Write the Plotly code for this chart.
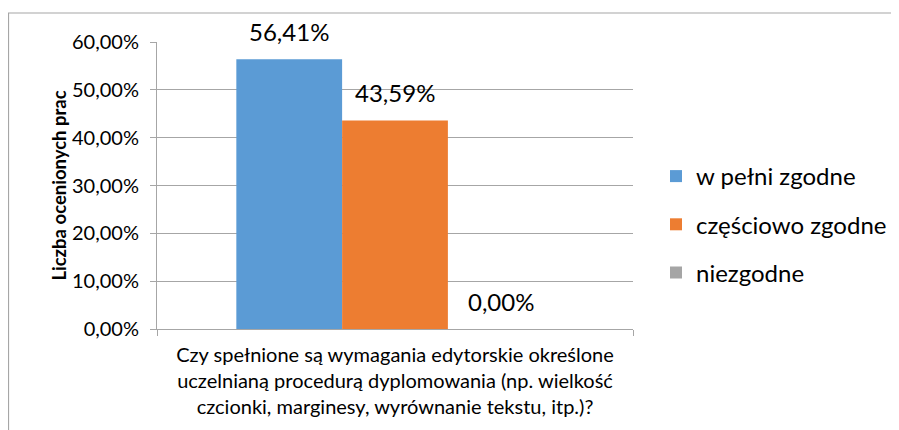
import plotly.graph_objects as go

categories = ["Czy spełnione są wymagania edytorskie określone<br>uczelnianą procedurą dyplomowania (np. wielkość<br>czcionki, marginesy, wyrównanie tekstu, itp.)?"]
series_names = ["w pełni zgodne", "częściowo zgodne", "niezgodne"]
series_values = [[0.5641], [0.4359], [0.0]]
series_colors = ["#5B9BD5", "#ED7D31", "#A5A5A5"]
y_title = "Liczba ocenionych prac"

FONT = "Lato"
W, H = 899, 430
ML, MR, MT, MB = 149, 274, 34, 109
BARGAP = 1/3
plot_w = W - ML - MR
plot_h = H - MT - MB
plot_bottom = H - MB
bar_w = plot_w * (1 - BARGAP) / len(series_names)

fig = go.Figure()
for i, (name, vals, col) in enumerate(zip(series_names, series_values, series_colors)):
    fig.add_trace(go.Bar(
        x=categories, y=vals, name=name, marker=dict(color=col, line=dict(width=0)),
        legendgroup=name,
    ))
    for c, v in zip(categories, vals):
        fig.add_annotation(
            x=c, y=v, xref="x", yref="y", text=f"{v*100:.2f}%".replace(".", ","),
            showarrow=False, yanchor="bottom", xanchor="center",
            xshift=(i - (len(series_names) - 1) / 2) * bar_w, yshift=11,
            font=dict(family=FONT, size=24, color="#000000"),
        )

fig.add_shape(type="rect", xref="paper", yref="paper",
              x0=(0.5 - ML) / plot_w, x1=2, y0=-1, y1=(plot_bottom - 5) / plot_h,
              line=dict(color="#A6A6A6", width=1.2), fillcolor="rgba(0,0,0,0)", layer="below")

fig.update_layout(
    width=W, height=H,
    margin=dict(l=ML, r=MR, t=MT, b=MB, autoexpand=False),
    paper_bgcolor="white", plot_bgcolor="white",
    barmode="group", bargap=BARGAP, bargroupgap=0,
    separators=", ",
    font=dict(family=FONT, size=20, color="#000000"),
    showlegend=True,
    legend=dict(
        x=(648 - ML) / plot_w, xanchor="left", y=(plot_bottom - 146) / plot_h, yanchor="top",
        traceorder="grouped", tracegroupgap=14,
        font=dict(family=FONT, size=24, color="#000000"),
        bgcolor="rgba(0,0,0,0)",
    ),
)
fig.update_yaxes(
    range=[0, 0.6], dtick=0.1, tickformat=".2%",
    showgrid=True, gridcolor="#A6A6A6", gridwidth=1,
    showline=True, linecolor="#A6A6A6", linewidth=1,
    ticks="outside", ticklen=6, tickcolor="#A6A6A6",
    ticklabelstandoff=7,
    zeroline=False,
    tickfont=dict(family=FONT, size=20, color="#000000"),
    title=dict(text="<b>" + y_title + "</b>", font=dict(family=FONT, size=18.5, color="#000000"), standoff=0),
    automargin=False,
)
fig.update_xaxes(
    showline=True, linecolor="#A6A6A6", linewidth=1,
    ticks="outside", ticklen=6, tickcolor="#A6A6A6", tickson="boundaries",
    ticklabelstandoff=8,
    tickfont=dict(family=FONT, size=20, color="#000000"),
    automargin=False,
)

fig.write_html("out.html")
